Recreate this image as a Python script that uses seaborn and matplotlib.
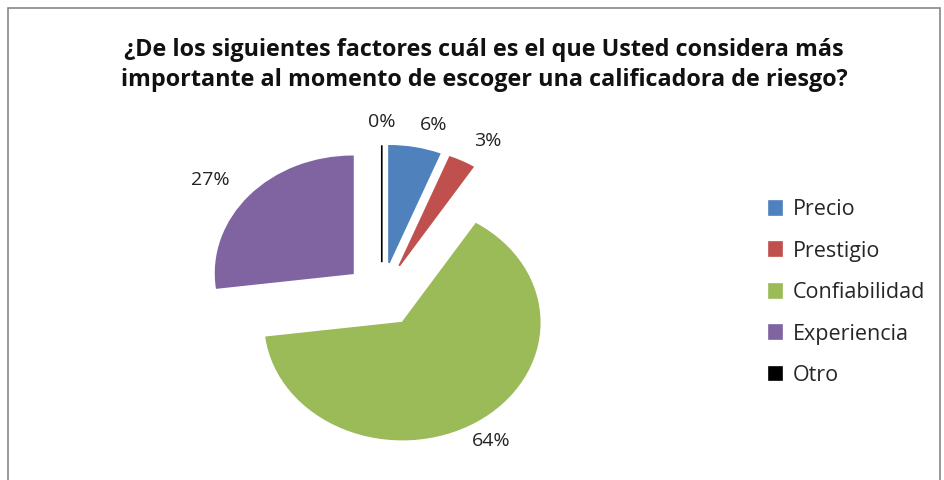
import matplotlib
matplotlib.use("Agg")
import matplotlib.pyplot as plt
import seaborn as sns
from matplotlib.patches import Rectangle

categories = ["Precio", "Prestigio", "Confiabilidad", "Experiencia", "Otro"]
values = [6, 3, 64, 27, 0]
pct_labels = ["6%", "3%", "64%", "27%", "0%"]
colors = ["#4F81BD", "#C0504D", "#9BBB59", "#8064A2", "#000000"]
title = ("¿De los siguientes factores cuál es el que Usted considera más\n"
         "importante al momento de escoger una calificadora de riesgo?")

sns.set_theme(style="white")
plt.rcParams['font.family'] = ['Open Sans', 'DejaVu Sans']

fig = plt.figure(figsize=(9.45, 4.8), dpi=100)
ax = fig.add_axes([0.186, 0.02, 0.436, 0.731])

wedges, texts = ax.pie(values, labels=pct_labels, colors=colors,
                       explode=[0.28] * len(values), startangle=90,
                       counterclock=False, labeldistance=1.2,
                       wedgeprops=dict(linewidth=1.2),
                       textprops=dict(fontsize=14, color="#222222"))
for w, c in zip(wedges, colors):
    w.set_edgecolor(c)
for t in texts:
    if t.get_text() in ("0%", "64%"):
        t.set_horizontalalignment("center")
ax.set_aspect("auto")
ax.set_xlim(-1.5, 1.5)
ax.set_ylim(-1.5, 1.5)

fig.text(0.512, 0.865, title, ha="center", va="center", fontsize=16.8,
         fontweight="bold", linespacing=1.3, color="#111111")

leg = fig.legend(wedges, categories, loc="center left",
                 bbox_to_anchor=(0.793, 0.39), frameon=False,
                 fontsize=15.5, handlelength=0.6, handleheight=0.6,
                 handletextpad=0.5, labelspacing=0.95)

fig.patches.append(Rectangle((8 / 945, -0.05), 932 / 945, 1.05 - 8 / 480,
                             transform=fig.transFigure, fill=False,
                             edgecolor="#888888", linewidth=1.2))

fig.savefig("out.png", dpi=100, facecolor="white")
